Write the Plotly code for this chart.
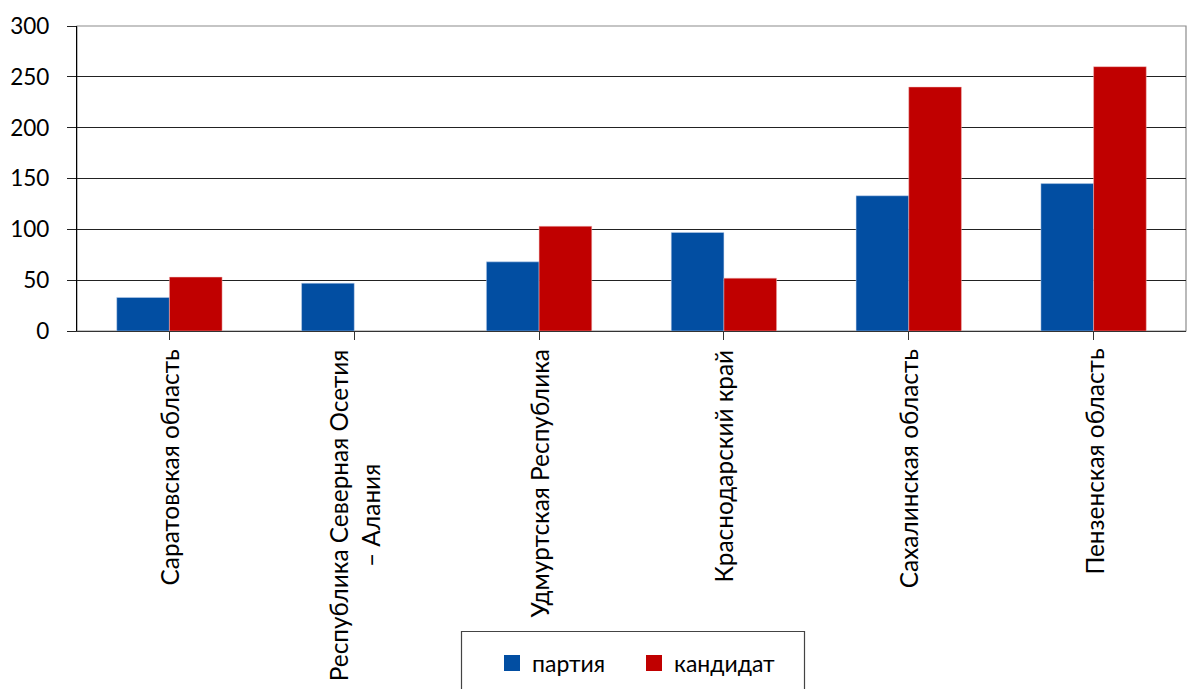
import plotly.graph_objects as go

categories = [
    "Саратовская область",
    "Республика Северная Осетия<br>– Алания",
    "Удмуртская Республика",
    "Краснодарский край",
    "Сахалинская область",
    "Пензенская область",
]
party = [33, 47, 68, 97, 133, 145]
candidate = [53, None, 103, 52, 240, 260]
y_ticks = [0, 50, 100, 150, 200, 250, 300]
series_names = ["партия", "кандидат"]
series_colors = ["#024EA2", "#C00000"]

FONT = "Lato"
W, H = 1187, 689
L, R, T, B = 77, 1, 26, 358
PW, PH = W - L - R, H - T - B

xs = list(range(len(categories)))
legend_ids = ["legend", "legend2"]
legend_left_px = [492, 634]

fig = go.Figure()
for name, vals, col, edge, lid in zip(series_names, [party, candidate], series_colors,
                                      ["rgba(200,215,240,0.8)", "rgba(240,190,190,0.8)"],
                                      legend_ids):
    fig.add_trace(go.Bar(name=name, x=xs, y=vals, legendgroup=name, showlegend=False,
                         marker=dict(color=col, line=dict(width=0.6, color=edge))))
    # legend entry with a larger square swatch
    fig.add_trace(go.Scatter(name=name, x=[None], y=[None], mode="markers", legendgroup=name,
                             legend=lid,
                             marker=dict(symbol="square", size=16, color=col, line=dict(width=0))))

for i, c in enumerate(categories):
    fig.add_annotation(x=i, y=0, xref="x", yref="paper", yshift=-16,
                       text=c, textangle=-90, showarrow=False,
                       xanchor="center", yanchor="top", align="center",
                       font=dict(family=FONT, size=24.4, color="#000"))

# plot frame (top/right) in gray
fig.add_shape(type="rect", xref="paper", yref="paper", x0=0, x1=1, y0=0, y1=1,
              line=dict(color="#8c8c8c", width=1.2), layer="below")
# legend box (extends past bottom edge)
fig.add_shape(type="rect", xref="paper", yref="paper",
              x0=(461.5 - L) / PW, x1=(804.5 - L) / PW,
              y0=(H - B - 631.5) / PH, y1=(H - B - 720) / PH,
              line=dict(color="#444", width=1.2), fillcolor="rgba(0,0,0,0)")

legend_common = dict(orientation="h", y=(H - B - 663) / PH, yanchor="middle",
                     xanchor="left", bgcolor="rgba(0,0,0,0)", borderwidth=0,
                     font=dict(family=FONT, size=23, color="#000"), itemwidth=30)

fig.update_layout(
    width=W, height=H,
    margin=dict(l=L, r=R, t=T, b=B, autoexpand=False),
    paper_bgcolor="white", plot_bgcolor="white",
    barmode="group", bargap=0.43, bargroupgap=0,
    font=dict(family=FONT, size=23, color="#000"),
    showlegend=True,
    legend=dict(x=(legend_left_px[0] - L) / PW, **legend_common),
    legend2=dict(x=(legend_left_px[1] - L) / PW, **legend_common),
)
fig.update_xaxes(range=[-0.5, len(categories) - 0.5],
                 tickmode="array", tickvals=xs,
                 ticktext=[""] * len(categories), tickson="boundaries",
                 ticks="outside", ticklen=8, tickcolor="#333", tickwidth=1.2,
                 showline=True, linecolor="#333", linewidth=1.2,
                 showgrid=False, zeroline=False, automargin=False)
fig.update_yaxes(range=[0, 300], tickmode="array", tickvals=y_ticks,
                 ticks="outside", ticklen=9, tickcolor="#222", tickwidth=1.2,
                 showline=True, linecolor="#000", linewidth=1.2,
                 showgrid=True, gridcolor="#222", gridwidth=1.1,
                 zeroline=False, ticklabelstandoff=13, automargin=False,
                 tickfont=dict(family=FONT, size=22.5, color="#000"))

fig.write_html("out.html", config={"displayModeBar": False},
               post_script="document.body.style.margin='0';document.body.style.overflow='hidden';")
